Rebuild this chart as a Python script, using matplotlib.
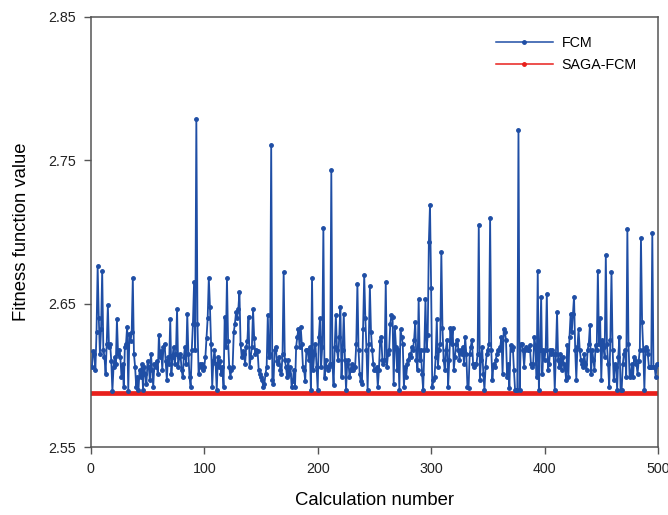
"""Fitness function value per calculation: FCM vs SAGA-FCM.

Writes : out.png
"""

import matplotlib
matplotlib.use("Agg")
import matplotlib.pyplot as plt
import numpy as np

# ---------------------------------------------------------------------------
# Data
# ---------------------------------------------------------------------------

FCM = [
    2.606, 2.617, 2.615, 2.604, 2.630, 2.676, 2.640, 2.615, 2.632, 2.673,   # 1-10
    2.618, 2.613, 2.601, 2.622, 2.649, 2.620, 2.622, 2.610, 2.589, 2.606,
    2.613, 2.608, 2.639, 2.615, 2.618, 2.613, 2.599, 2.608, 2.592, 2.620,
    2.622, 2.634, 2.589, 2.629, 2.624, 2.630, 2.668, 2.615, 2.606, 2.592,
    2.599, 2.590, 2.604, 2.599, 2.608, 2.590, 2.606, 2.601, 2.594, 2.610,
    2.606, 2.597, 2.615, 2.604, 2.592, 2.608, 2.606, 2.610, 2.601, 2.628,
    2.613, 2.617, 2.604, 2.620, 2.622, 2.610, 2.597, 2.613, 2.608, 2.639,
    2.601, 2.613, 2.620, 2.608, 2.615, 2.646, 2.606, 2.613, 2.615, 2.604,
    2.599, 2.613, 2.620, 2.608, 2.643, 2.615, 2.599, 2.592, 2.618, 2.636,
    2.665, 2.618, 2.779, 2.636, 2.601, 2.608, 2.606, 2.608, 2.604, 2.606,   # 91-100
    2.613, 2.626, 2.640, 2.668, 2.648, 2.622, 2.592, 2.610, 2.618, 2.608,
    2.590, 2.613, 2.606, 2.610, 2.601, 2.606, 2.592, 2.641, 2.620, 2.668,
    2.624, 2.606, 2.599, 2.604, 2.606, 2.630, 2.636, 2.644, 2.640, 2.646,
    2.658, 2.622, 2.613, 2.617, 2.615, 2.608, 2.620, 2.624, 2.641, 2.606,
    2.613, 2.620, 2.646, 2.626, 2.615, 2.618, 2.617, 2.604, 2.601, 2.599,
    2.597, 2.592, 2.594, 2.601, 2.606, 2.642, 2.613, 2.615, 2.761, 2.597,
    2.594, 2.618, 2.620, 2.610, 2.608, 2.613, 2.604, 2.601, 2.615, 2.672,
    2.611, 2.606, 2.599, 2.611, 2.601, 2.606, 2.592, 2.596, 2.604, 2.592,
    2.620, 2.627, 2.632, 2.620, 2.634, 2.622, 2.606, 2.604, 2.596, 2.618,
    2.618, 2.611, 2.620, 2.590, 2.668, 2.604, 2.615, 2.622, 2.606, 2.590,   # 191-200
    2.627, 2.640, 2.606, 2.620, 2.703, 2.598, 2.611, 2.606, 2.604, 2.606,
    2.608, 2.743, 2.608, 2.593, 2.620, 2.642, 2.618, 2.611, 2.627, 2.648,
    2.599, 2.618, 2.643, 2.611, 2.590, 2.608, 2.611, 2.599, 2.604, 2.608,
    2.604, 2.606, 2.606, 2.622, 2.664, 2.618, 2.601, 2.596, 2.594, 2.632,
    2.670, 2.640, 2.618, 2.590, 2.622, 2.662, 2.630, 2.618, 2.608, 2.604,
    2.604, 2.606, 2.592, 2.604, 2.624, 2.627, 2.611, 2.608, 2.611, 2.665,
    2.606, 2.615, 2.618, 2.636, 2.642, 2.641, 2.594, 2.634, 2.620, 2.604,
    2.618, 2.590, 2.632, 2.627, 2.622, 2.592, 2.606, 2.599, 2.608, 2.611,
    2.615, 2.613, 2.620, 2.618, 2.625, 2.637, 2.611, 2.604, 2.653, 2.611,
    2.618, 2.601, 2.590, 2.618, 2.653, 2.618, 2.628, 2.693, 2.719, 2.661,   # 291-300
    2.592, 2.597, 2.599, 2.613, 2.639, 2.606, 2.618, 2.622, 2.686, 2.633,
    2.611, 2.604, 2.618, 2.625, 2.592, 2.611, 2.633, 2.622, 2.633, 2.604,
    2.613, 2.622, 2.625, 2.618, 2.611, 2.618, 2.615, 2.620, 2.608, 2.627,
    2.615, 2.592, 2.591, 2.615, 2.620, 2.625, 2.608, 2.606, 2.608, 2.608,
    2.615, 2.705, 2.597, 2.611, 2.620, 2.601, 2.590, 2.606, 2.615, 2.618,
    2.622, 2.710, 2.618, 2.597, 2.608, 2.606, 2.611, 2.615, 2.618, 2.618,
    2.620, 2.627, 2.601, 2.632, 2.630, 2.625, 2.599, 2.608, 2.591, 2.621,
    2.618, 2.620, 2.604, 2.590, 2.590, 2.590, 2.771, 2.590, 2.622, 2.622,
    2.618, 2.606, 2.618, 2.620, 2.618, 2.618, 2.621, 2.608, 2.606, 2.608,
    2.627, 2.620, 2.599, 2.673, 2.590, 2.618, 2.655, 2.601, 2.618, 2.611,   # 391-400
    2.618, 2.657, 2.604, 2.608, 2.618, 2.615, 2.618, 2.615, 2.590, 2.615,
    2.644, 2.611, 2.606, 2.615, 2.604, 2.613, 2.608, 2.606, 2.597, 2.621,
    2.599, 2.627, 2.643, 2.630, 2.643, 2.655, 2.618, 2.597, 2.620, 2.632,
    2.618, 2.611, 2.608, 2.606, 2.615, 2.608, 2.604, 2.618, 2.622, 2.635,
    2.601, 2.618, 2.611, 2.604, 2.621, 2.618, 2.673, 2.622, 2.640, 2.597,
    2.625, 2.620, 2.613, 2.684, 2.622, 2.608, 2.592, 2.625, 2.672, 2.618,
    2.597, 2.608, 2.606, 2.590, 2.613, 2.627, 2.590, 2.590, 2.608, 2.615,
    2.618, 2.599, 2.702, 2.622, 2.599, 2.601, 2.608, 2.599, 2.613, 2.611,
    2.608, 2.601, 2.610, 2.618, 2.696, 2.637, 2.618, 2.590, 2.620, 2.618,
    2.615, 2.606, 2.606, 2.606, 2.699, 2.606, 2.606, 2.599, 2.608, 2.608,   # 491-500
]

SAGA_FCM_VALUE = 2.588

X_TICKS = [0, 100, 200, 300, 400, 500]
Y_TICKS = [2.55, 2.65, 2.75, 2.85]

FCM_COLOR   = "#1f4ea5"
SAGA_COLOR  = "#e8201c"
SPINE_COLOR = "#555555"

plt.rcParams["font.family"] = ["Liberation Sans", "DejaVu Sans"]

# ---------------------------------------------------------------------------
# Plot
# ---------------------------------------------------------------------------

calc = np.arange(1, len(FCM) + 1)
saga = np.full(len(FCM), SAGA_FCM_VALUE)

fig = plt.figure(figsize=(6.68, 5.15), dpi=100)
ax = fig.add_axes([0.136, 0.132, 0.849, 0.835])

ax.plot(calc, FCM, color=FCM_COLOR, linewidth=1.3, marker="o",
        markersize=2.5, label="FCM", zorder=3)
ax.plot(calc, saga, color=SAGA_COLOR, linewidth=3.4,
        label="SAGA-FCM", zorder=2)

ax.set_xlim(0, 500)
ax.set_ylim(2.55, 2.85)
ax.set_xticks(X_TICKS)
ax.set_yticks(Y_TICKS)
ax.set_yticklabels([f"{v:.2f}" for v in Y_TICKS])
ax.tick_params(direction="out", length=5, width=1, labelsize=10.3, pad=6,
               colors=SPINE_COLOR, labelcolor="#222222")
for side in ["top", "right", "bottom", "left"]:
    ax.spines[side].set_color(SPINE_COLOR)
    ax.spines[side].set_linewidth(1.1)

ax.set_xlabel("Calculation number", fontsize=13.3, labelpad=11)
ax.set_ylabel("Fitness function value", fontsize=13.3, labelpad=13)

# legend: line with a dot in the middle, no frame
leg_fcm = plt.Line2D([], [], color=FCM_COLOR, linewidth=1.1, marker="o",
                     markersize=2.5)
leg_saga = plt.Line2D([], [], color=SAGA_COLOR, linewidth=1.1, marker="o",
                      markersize=2.5)
ax.legend([leg_fcm, leg_saga], ["FCM", "SAGA-FCM"], loc="upper right",
          bbox_to_anchor=(0.985, 0.985), frameon=False, fontsize=10.3,
          handlelength=4.0, handletextpad=0.6, labelspacing=0.55)

fig.savefig("out.png", dpi=100)
plt.close(fig)
